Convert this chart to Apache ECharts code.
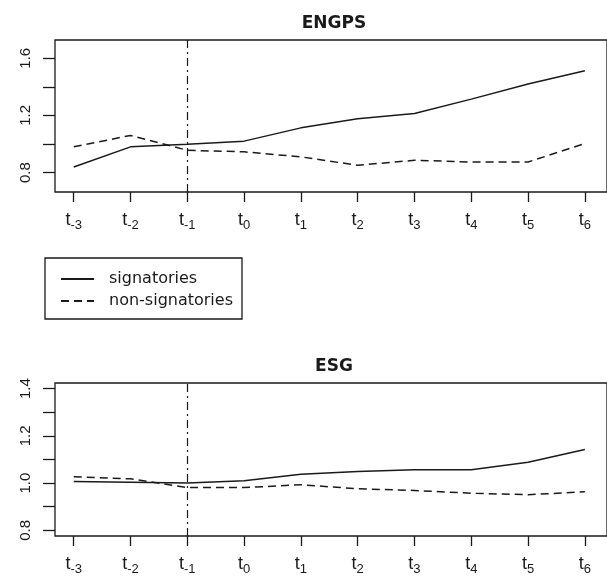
<!DOCTYPE html>
<html>
<head>
<meta charset="utf-8">
<title>ENGPS / ESG</title>
<script src="https://cdn.jsdelivr.net/npm/echarts@6/dist/echarts.min.js"></script>
<style>
html,body{margin:0;padding:0;background:#fff;}
#chart{width:607px;height:576px;}
</style>
</head>
<body>
<div id="chart"></div>
<script>
// subscripts of the periods t-3 ... t6
var periods = ['-3', '-2', '-1', '0', '1', '2', '3', '4', '5', '6'];
var eventIndex = 2; // t-1, the dot-dash line

var engpsSignatories    = [0.839, 0.980, 0.999, 1.020, 1.113, 1.176, 1.214, 1.314, 1.420, 1.513];
var engpsNonSignatories = [0.980, 1.060, 0.956, 0.945, 0.910, 0.851, 0.886, 0.874, 0.874, 1.003];
var esgSignatories      = [1.007, 1.004, 1.000, 1.010, 1.038, 1.049, 1.057, 1.057, 1.088, 1.142];
var esgNonSignatories   = [1.027, 1.018, 0.981, 0.981, 0.993, 0.976, 0.969, 0.957, 0.951, 0.963];

var engpsTicks  = [0.8, 1.0, 1.2, 1.4, 1.6];
var engpsLabels = [0.8, 1.2, 1.6];
var esgTicks    = [0.8, 0.9, 1.0, 1.1, 1.2, 1.3, 1.4];
var esgLabels   = [0.8, 1.0, 1.2, 1.4];

var ink = '#1a1a1a';

function pairs(values) {
    return values.map(function (v, i) { return [i, v]; });
}

var idx = periods.map(function (p, i) { return i; });

function xAxisFor(gridIndex) {
    return {
        type: 'value',
        gridIndex: gridIndex,
        min: -0.33,
        max: periods.length - 1 + 0.39,
        axisLine: {show: false, onZero: false},
        splitLine: {show: false},
        axisTick: {show: true, inside: false, length: 10, customValues: idx, lineStyle: {color: ink, width: 1.3}},
        axisLabel: {
            customValues: idx,
            margin: 19,
            formatter: function (v) {
                return '{t|t}{s|' + periods[Math.round(v)] + '}';
            },
            rich: {
                t: {fontFamily: 'Liberation Sans', fontSize: 18, lineHeight: 18, verticalAlign: 'top', color: ink},
                s: {fontFamily: 'Liberation Sans', fontSize: 13, lineHeight: 13, padding: [8, 0, 0, 0], verticalAlign: 'top', color: ink}
            }
        }
    };
}

function yAxisFor(gridIndex, min, max, ticks, labels) {
    return {
        type: 'value',
        gridIndex: gridIndex,
        min: min,
        max: max,
        axisLine: {show: false, onZero: false},
        splitLine: {show: false},
        axisTick: {show: true, inside: false, length: 12, customValues: ticks, lineStyle: {color: ink, width: 1.3}},
        axisLabel: {
            customValues: labels,
            rotate: 90,
            margin: 22,
            fontFamily: 'Liberation Sans',
            fontSize: 15,
            color: ink,
            formatter: function (v) { return v.toFixed(1); }
        }
    };
}

function lineSeries(name, gridIndex, values, dashed, withEvent) {
    var s = {
        name: name,
        type: 'line',
        xAxisIndex: gridIndex,
        yAxisIndex: gridIndex,
        data: pairs(values),
        symbol: 'none',
        silent: true,
        itemStyle: {color: ink},
        lineStyle: {color: ink, width: 1.5, type: dashed ? [8, 5] : 'solid'}
    };
    if (withEvent) {
        s.markLine = {
            silent: true,
            symbol: 'none',
            label: {show: false},
            lineStyle: {color: ink, width: 1.2, type: [8, 4, 2, 4]},
            data: [{xAxis: eventIndex}]
        };
    }
    return s;
}

var chart = echarts.init(document.getElementById('chart'));
chart.setOption({
    animation: false,
    backgroundColor: '#fff',
    grid: [
        {left: 55, top: 40, width: 560, height: 152, show: true, borderColor: ink, borderWidth: 1.3},
        {left: 55, top: 383, width: 560, height: 153, show: true, borderColor: ink, borderWidth: 1.3}
    ],
    xAxis: [xAxisFor(0), xAxisFor(1)],
    yAxis: [
        yAxisFor(0, 0.664, 1.728, engpsTicks, engpsLabels),
        yAxisFor(1, 0.776, 1.424, esgTicks, esgLabels)
    ],
    legend: {
        data: ['signatories', 'non-signatories'],
        orient: 'vertical',
        left: 45,
        top: 258,
        padding: [13, 9, 10, 15],
        borderColor: ink,
        borderWidth: 1.3,
        itemWidth: 33,
        itemHeight: 16,
        itemGap: 6,
        selectedMode: false,
        // hide the circle that line series put in the middle of the legend line
        itemStyle: {color: 'rgba(0,0,0,0)', borderColor: 'rgba(0,0,0,0)', borderWidth: 0},
        textStyle: {fontFamily: 'DejaVu Sans', fontSize: 16, lineHeight: 16, color: ink, padding: [0, 0, 0, 10]}
    },
    graphic: [
        {type: 'text', x: 334, y: 24, silent: true,
         style: {text: 'ENGPS', fill: ink, font: 'bold 17px "DejaVu Sans"', align: 'center', verticalAlign: 'middle'}},
        {type: 'text', x: 334, y: 367, silent: true,
         style: {text: 'ESG', fill: ink, font: 'bold 17px "DejaVu Sans"', align: 'center', verticalAlign: 'middle'}}
    ],
    series: [
        lineSeries('signatories', 0, engpsSignatories, false, true),
        lineSeries('non-signatories', 0, engpsNonSignatories, true, false),
        lineSeries('signatories', 1, esgSignatories, false, true),
        lineSeries('non-signatories', 1, esgNonSignatories, true, false)
    ]
});
</script>
</body>
</html>
